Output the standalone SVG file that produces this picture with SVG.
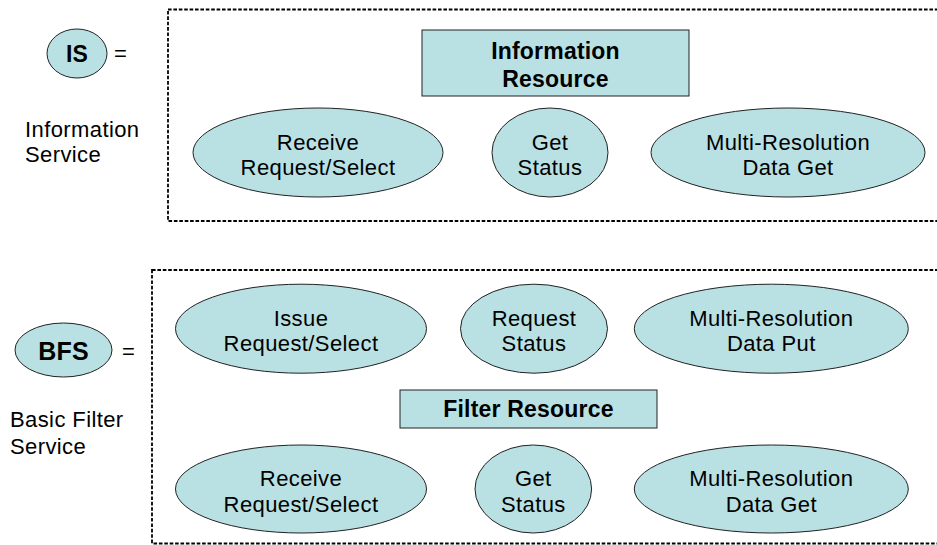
<svg xmlns="http://www.w3.org/2000/svg" width="937" height="545" viewBox="0 0 937 545">
  <style>
    .bg { fill: #ffffff; }
    .frame { fill: none; stroke: #000000; stroke-width: 1.8; stroke-dasharray: 3.6 1.8; }
    .shape { fill: #B9E0E3; stroke: #222222; stroke-width: 1; }
    .lbl { font-family: "Liberation Sans", Arial, sans-serif; font-size: 22px; letter-spacing: 0.4px; fill: #000000; text-anchor: middle; }
    .bold { font-weight: bold; font-size: 23px; letter-spacing: 0.2px; }
    .side { font-family: "Liberation Sans", Arial, sans-serif; font-size: 22px; letter-spacing: 0.4px; fill: #000000; }
  </style>

  <rect class="bg" x="0" y="0" width="937" height="545"/>

  <!-- Information Service (IS) -->
  <g id="is-legend">
    <ellipse class="shape" cx="77" cy="53.5" rx="30" ry="24.5"/>
    <text class="lbl bold" x="77" y="61.5">IS</text>
    <text class="side" x="114" y="61">=</text>
    <text class="side" x="25" y="137">Information</text>
    <text class="side" x="25" y="162">Service</text>
  </g>

  <g id="is-frame">
    <rect class="frame" x="168" y="9.5" width="790" height="211.5"/>
  </g>

  <g id="information-resource">
    <rect class="shape" x="422" y="30" width="267" height="66"/>
    <text class="lbl bold" x="555.5" y="59">Information</text>
    <text class="lbl bold" x="555.5" y="87">Resource</text>
  </g>

  <g id="is-receive-request">
    <ellipse class="shape" cx="318" cy="152.5" rx="125" ry="44.5"/>
    <text class="lbl" x="318" y="149.5">Receive</text>
    <text class="lbl" x="318" y="175">Request/Select</text>
  </g>

  <g id="is-get-status">
    <ellipse class="shape" cx="550" cy="152.5" rx="58" ry="44.5"/>
    <text class="lbl" x="550" y="149.5">Get</text>
    <text class="lbl" x="550" y="175">Status</text>
  </g>

  <g id="is-data-get">
    <ellipse class="shape" cx="788" cy="152.5" rx="137" ry="44.5"/>
    <text class="lbl" x="788" y="149.5">Multi-Resolution</text>
    <text class="lbl" x="788" y="175">Data Get</text>
  </g>

  <!-- Basic Filter Service (BFS) -->
  <g id="bfs-legend">
    <ellipse class="shape" cx="63.5" cy="350" rx="48.5" ry="27"/>
    <text class="lbl bold" x="63.5" y="359.5" style="font-size:25px">BFS</text>
    <text class="side" x="122" y="358.5">=</text>
    <text class="side" x="10" y="427">Basic Filter</text>
    <text class="side" x="10" y="454">Service</text>
  </g>

  <g id="bfs-frame">
    <rect class="frame" x="152" y="270" width="800" height="273.5"/>
  </g>

  <g id="bfs-issue-request">
    <ellipse class="shape" cx="301" cy="328.7" rx="125.5" ry="44.5"/>
    <text class="lbl" x="301" y="325.5">Issue</text>
    <text class="lbl" x="301" y="351">Request/Select</text>
  </g>

  <g id="bfs-request-status">
    <ellipse class="shape" cx="534" cy="328.7" rx="73.5" ry="44.5"/>
    <text class="lbl" x="534" y="325.5">Request</text>
    <text class="lbl" x="534" y="351">Status</text>
  </g>

  <g id="bfs-data-put">
    <ellipse class="shape" cx="771.3" cy="328.7" rx="137" ry="44.5"/>
    <text class="lbl" x="771.3" y="325.5">Multi-Resolution</text>
    <text class="lbl" x="771.3" y="351">Data Put</text>
  </g>

  <g id="filter-resource">
    <rect class="shape" x="400" y="390" width="257" height="38"/>
    <text class="lbl bold" x="528.5" y="417">Filter Resource</text>
  </g>

  <g id="bfs-receive-request">
    <ellipse class="shape" cx="301" cy="489" rx="125.5" ry="44"/>
    <text class="lbl" x="301" y="486">Receive</text>
    <text class="lbl" x="301" y="511.5">Request/Select</text>
  </g>

  <g id="bfs-get-status">
    <ellipse class="shape" cx="533.3" cy="489" rx="58.3" ry="44"/>
    <text class="lbl" x="533.3" y="486">Get</text>
    <text class="lbl" x="533.3" y="511.5">Status</text>
  </g>

  <g id="bfs-data-get">
    <ellipse class="shape" cx="771.3" cy="489" rx="137" ry="44"/>
    <text class="lbl" x="771.3" y="486">Multi-Resolution</text>
    <text class="lbl" x="771.3" y="511.5">Data Get</text>
  </g>

  <!-- no connectors in this figure -->
  <g id="connectors"/>
</svg>
